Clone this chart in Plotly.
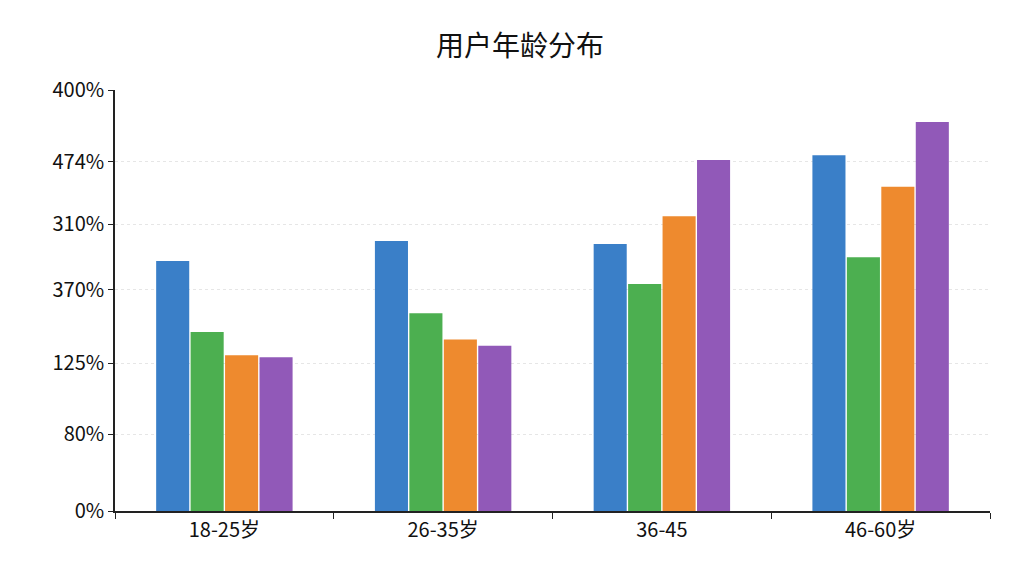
import plotly.graph_objects as go

categories = ["18-25岁", "26-35岁", "36-45", "46-60岁"]
series_a = [237.5, 256.5, 253.6, 338]
series_b = [170, 188, 215.6, 241]
series_c = [148, 163, 280, 308]
series_d = [146, 157, 333.5, 369.5]
tick_vals = [0, 73, 140.6, 210, 272.6, 331.6, 400]
tick_text = ["0%", "80%", "125%", "370%", "310%", "474%", "400%"]

colors = ["#3a7fc8", "#4caf50", "#ee8a2e", "#9159b8"]
fig = go.Figure()
for vals, c in zip([series_a, series_b, series_c, series_d], colors):
    fig.add_bar(x=categories, y=vals, marker=dict(color=c, line=dict(width=0)), showlegend=False)

fig.update_layout(
    width=1024, height=576, plot_bgcolor="white", paper_bgcolor="white",
    margin=dict(l=107, r=42, t=82, b=73),
    barmode="group", bargap=0.37, bargroupgap=0.04,
    title=dict(text="用户年龄分布", x=0.5, y=0.95, xanchor="center",
               font=dict(size=28, color="#111", family="Noto Sans CJK SC")),
    font=dict(family="Noto Sans CJK SC", size=20, color="#111"),
)
fig.update_yaxes(range=[0, 400], tickvals=tick_vals, ticktext=tick_text,
                 showline=True, linecolor="#222", linewidth=1.5,
                 ticks="outside", ticklen=5, tickcolor="#222",
                 showgrid=True, gridcolor="#e6e6e6", griddash="dot", zeroline=False)
fig.update_xaxes(showline=True, linecolor="#222", linewidth=1.5,
                 ticks="outside", ticklen=6, tickson="boundaries", tickcolor="#222")
fig.write_html("out.html")
